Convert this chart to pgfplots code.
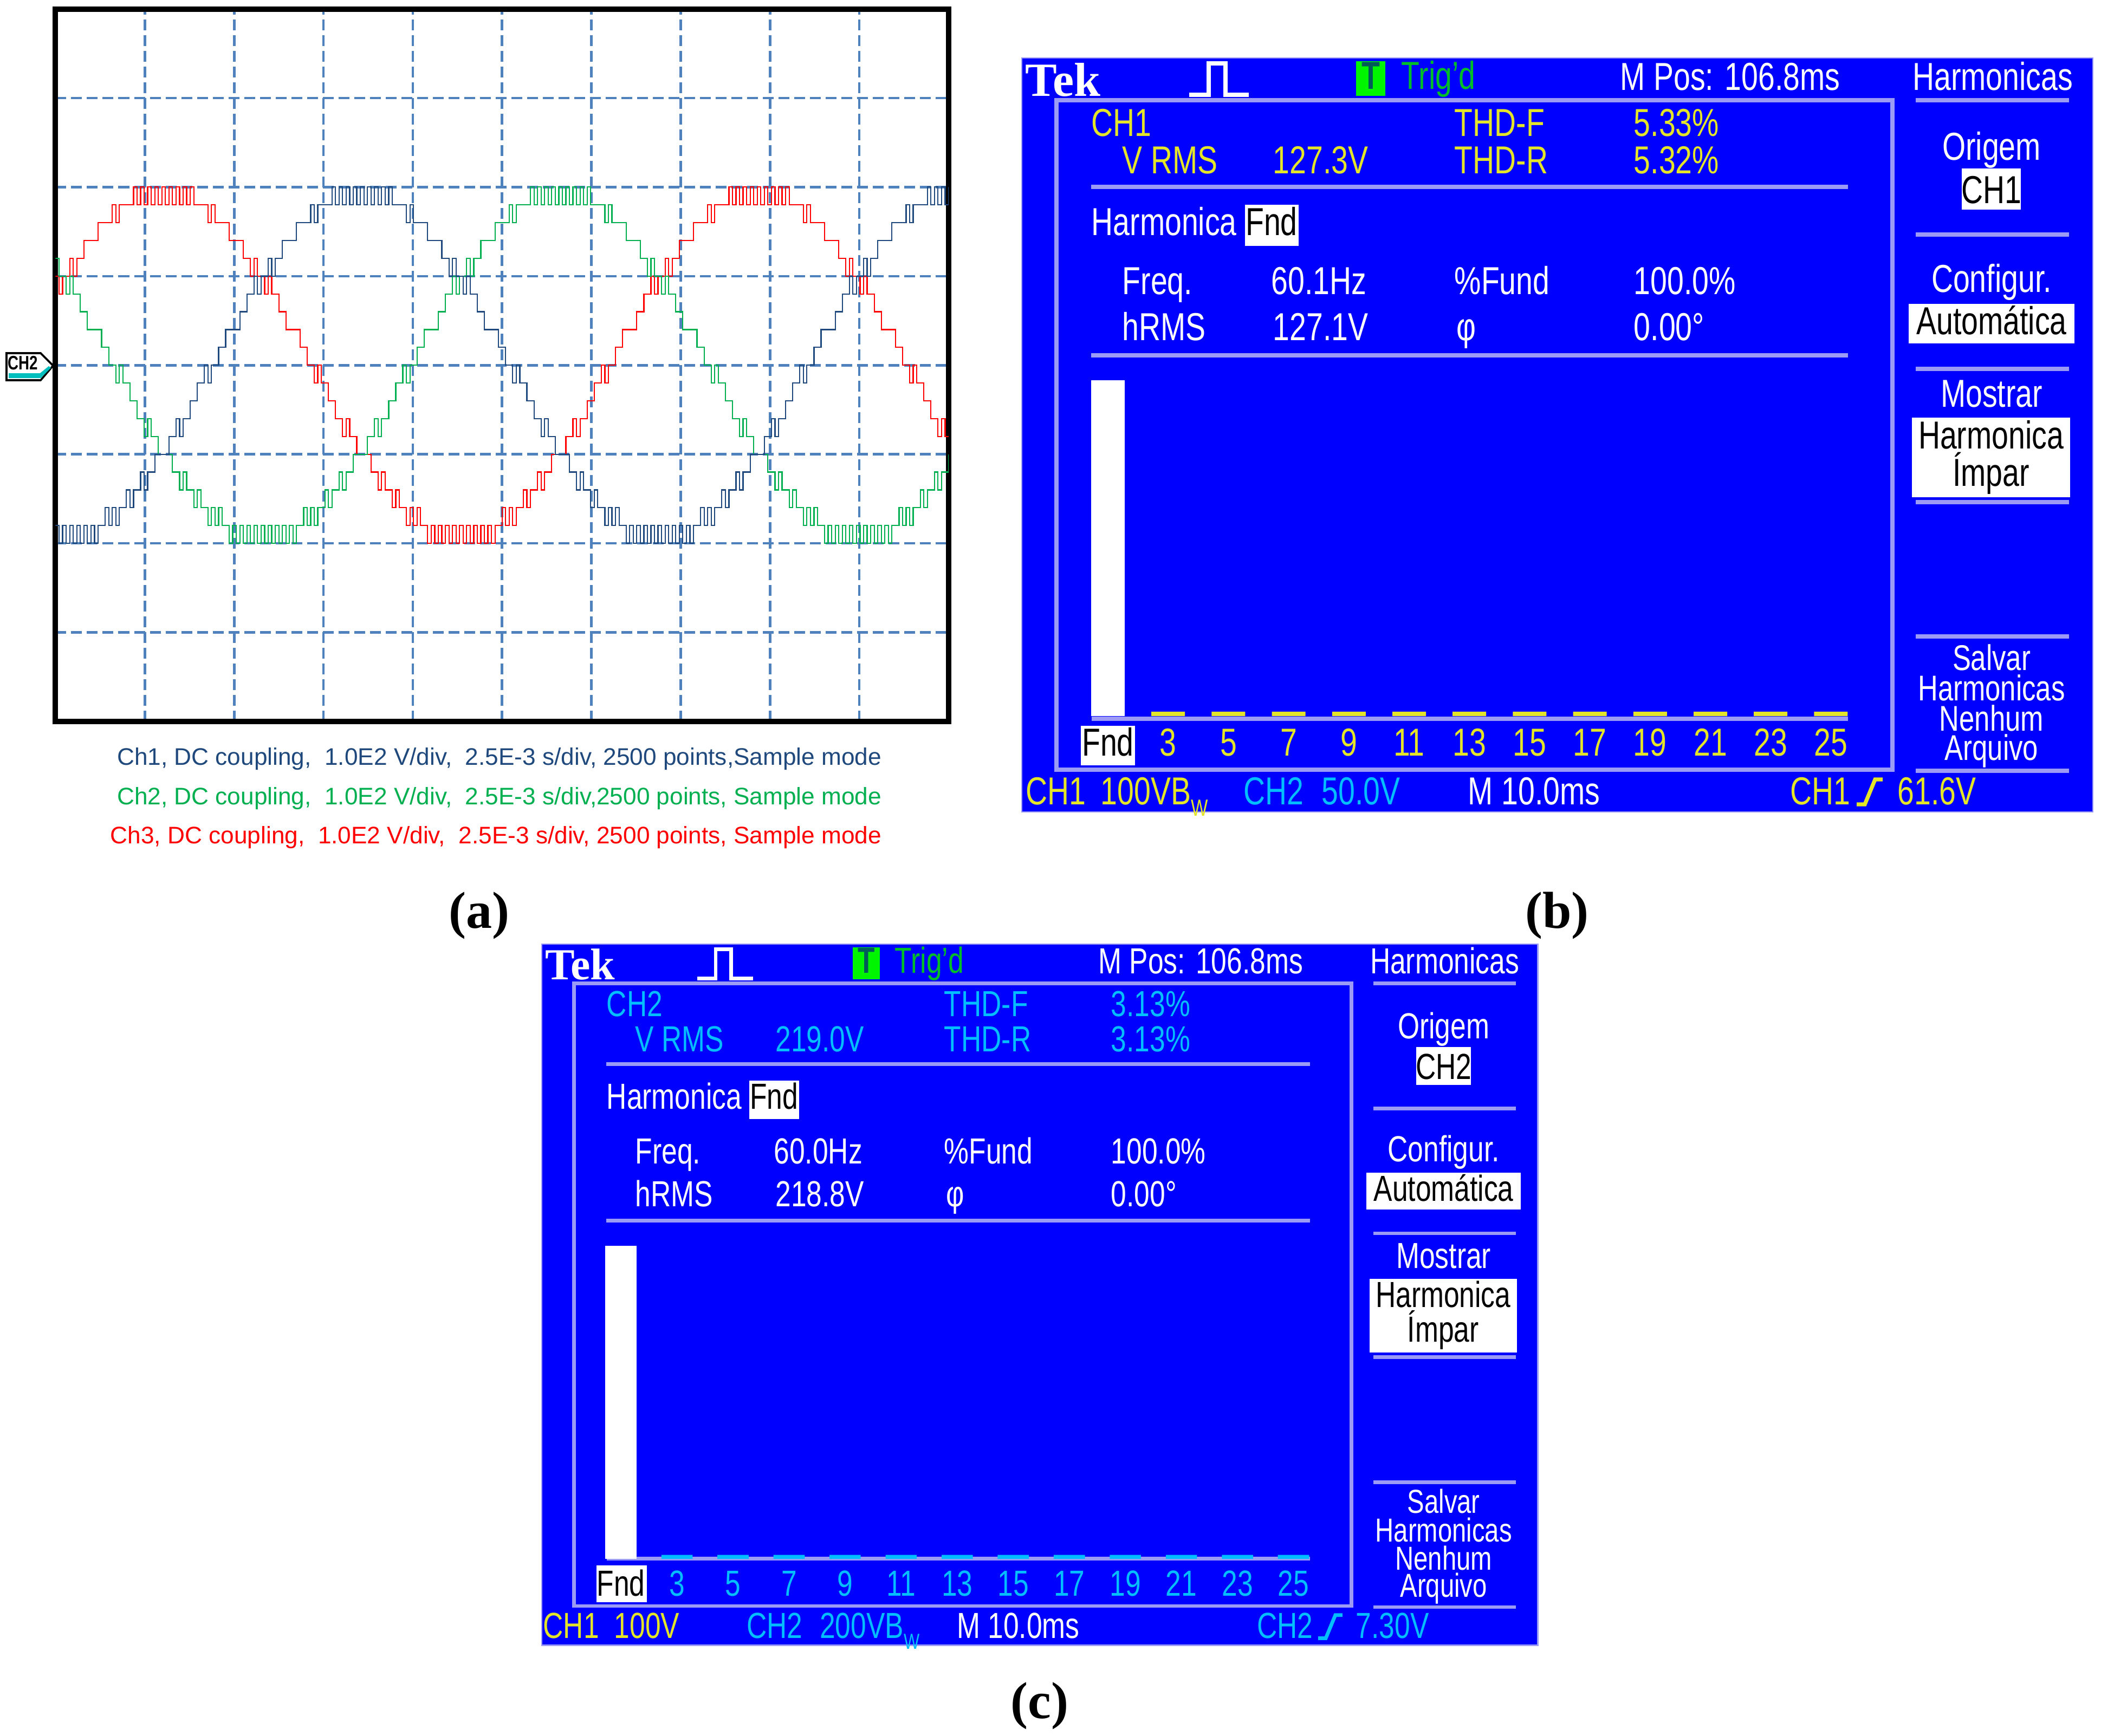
\documentclass[border=0pt]{standalone}
\usepackage{fontspec}
\setmainfont{Liberation Serif}
\newfontfamily\capfont{Liberation Sans}
\newfontfamily\tekfont[FakeStretch=0.77]{Liberation Sans}
\usepackage{pgfplots}
\pgfplotsset{compat=1.18}

\definecolor{gridblue}{RGB}{79,129,189}
\definecolor{trnavy}{RGB}{31,73,125}
\definecolor{trgreen}{RGB}{0,176,80}
\definecolor{trred}{RGB}{255,0,0}
\definecolor{tekblue}{RGB}{0,0,255}
\definecolor{teklav}{RGB}{155,155,245}
\definecolor{tekyellow}{RGB}{228,228,40}
\definecolor{tekcyan}{RGB}{0,190,255}
\definecolor{trigbox}{RGB}{0,245,0}
\definecolor{trigtxt}{RGB}{0,190,40}
\definecolor{tdark}{RGB}{0,90,90}
\definecolor{tealstrip}{RGB}{0,190,190}

\newcommand\bw{B\raisebox{-0.3em}{\scalebox{0.6}{W}}}

\tikzset{
  tk/.style={anchor=base west, inner sep=0pt, font=\tekfont\fontsize{\fs}{\fs}\selectfont},
  tkc/.style={anchor=base, inner sep=0pt, font=\tekfont\fontsize{\fs}{\fs}\selectfont},
  tks/.style={anchor=base, inner sep=0pt, text height=0.7em, text depth=0pt,
    font=\tekfont\fontsize{\fss}{\fss}\selectfont},
}

% static part of the Tek harmonics screen, local pixel frame of panel (b)
\newcommand{\tekbase}[1]{%
  \pgfmathsetmacro{\fs}{18*#1}%
  \pgfmathsetmacro{\fss}{16.5*#1}%
  \pgfmathsetmacro{\lw}{1.8*#1}%
  \pgfmathsetmacro{\tekfs}{22*#1}%
  \fill[tekblue] (0,0) rectangle (1977,1392);
  \draw[teklav, line width=0.6pt] (0,0) rectangle (1977,1392);
  \draw[teklav, line width=\lw pt] (64,78) rectangle (1607,1314);
  \draw[teklav, line width=\lw pt] (128,238) -- (1525,238) (128,549) -- (1525,549);
  \foreach \yy in {78,326,574,820,1068,1316}{\draw[teklav, line width=\lw pt] (1650,\yy) -- (1933,\yy);}
  \draw[teklav, line width=\lw pt] (129,1220) -- (1525,1220);
  \fill[white] (412,271) rectangle (511,347);
  \fill[white] (1735,204) rectangle (1844,280);
  \fill[white] (1637,454) rectangle (1943,527);
  \fill[white] (1643,664) rectangle (1935,811);
  \fill[white] (109,1233) rectangle (209,1306);
  \fill[trigbox] (617,6) rectangle (671,70);
  \draw[white, line width=\lw pt] (309,68) -- (345,68) -- (345,10) -- (376,10) -- (376,68) -- (419,68);
  \node[anchor=base west, inner sep=0pt, text=white, font=\rmfamily\bfseries\fontsize{\tekfs}{\tekfs}\selectfont] at (6,70) {Tek};
  \node[tkc, text=tdark, font=\tekfont\bfseries\fontsize{\fs}{\fs}\selectfont] at (644,57) {T};
  \node[tk, text=trigtxt] at (700,57) {Trig’d};
  \node[tk, text=white] at (1104,59) {M Pos: 106.8ms};
  \node[tkc, text=white] at (1792,59) {Harmonicas};
  \node[tk, text=white] at (128,327) {Harmonica};
  \node[tkc, text=black] at (461,327) {Fnd};
  \node[tk, text=white] at (185,436) {Freq.};
  \node[tk, text=white] at (798,436) {\%Fund};
  \node[tk, text=white] at (1129,436) {100.0\%};
  \node[tk, text=white] at (185,521) {hRMS};
  \node[tk, text=white] at (802,521) {φ};
  \node[tk, text=white] at (1129,521) {0.00°};
  \node[tkc, text=white] at (1790,188) {Origem};
  \node[tkc, text=white] at (1790,432) {Configur.};
  \node[tkc, text=black] at (1790,510) {Automática};
  \node[tkc, text=white] at (1790,644) {Mostrar};
  \node[tkc, text=black] at (1789,721) {Harmonica};
  \node[tkc, text=black] at (1789,790) {Ímpar};
  \node[tks, text=white] at (1790,1130) {Salvar};
  \node[tks, text=white] at (1790,1186) {Harmonicas};
  \node[tks, text=white] at (1790,1242) {Nenhum};
  \node[tks, text=white] at (1790,1296) {Arquivo};
  \node[tk, text=white] at (823,1378) {M 10.0ms};
}

% colour, channel, vrms, thd-f, thd-r, freq, hrms
\newcommand{\tekvar}[7]{%
  \node[tk, text=#1] at (128,144) {#2};
  \node[tk, text=#1] at (798,144) {THD-F};
  \node[tk, text=#1] at (1129,144) {#4};
  \node[tk, text=#1] at (185,213) {V RMS};
  \node[tk, text=#1] at (463,213) {#3};
  \node[tk, text=#1] at (798,213) {THD-R};
  \node[tk, text=#1] at (1129,213) {#5};
  \node[tk, text=white] at (460,436) {#6};
  \node[tk, text=white] at (463,521) {#7};
  \node[tkc, text=black] at (1790,268) {#2};
}

\begin{document}
\begin{tikzpicture}
\fill[white] (0pt,0pt) rectangle (969.5pt,-801pt);
\path[use as bounding box] (0pt,0pt) rectangle (969.5pt,-801pt);

% ---------------- (a) scope traces ----------------
\begin{axis}[
  at={(25.625pt,-4.125pt)}, anchor=north west,
  scale only axis, width=412.125pt, height=328.875pt,
  xmin=0, xmax=252, ymin=-20, ymax=20,
  xtick={25.2,50.4,75.6,100.8,126,151.2,176.4,201.6,226.8},
  ytick={-15,-10,-5,0,5,10,15},
  xticklabels={}, yticklabels={},
  major tick length=0pt,
  grid=major,
  major grid style={gridblue, line width=1.15pt, dash pattern=on 5pt off 2.25pt},
  axis line style={black, line width=2.5pt},
]
\addplot[const plot, trred, line width=0.55pt] coordinates {
(0,5)(1,4)(2,5)(3,5)(4,6)(5,5)(6,6)(7,6)(8,7)(9,7)
(10,7)(11,7)(12,8)(13,8)(14,8)(15,8)(16,9)(17,8)(18,9)(19,9)
(20,9)(21,9)(22,10)(23,9)(24,10)(25,9)(26,10)(27,9)(28,10)(29,9)
(30,10)(31,9)(32,10)(33,9)(34,10)(35,9)(36,10)(37,9)(38,10)(39,9)
(40,9)(41,9)(42,9)(43,8)(44,9)(45,8)(46,8)(47,8)(48,8)(49,7)
(50,7)(51,7)(52,7)(53,6)(54,6)(55,5)(56,6)(57,5)(58,5)(59,4)
(60,5)(61,4)(62,4)(63,3)(64,3)(65,2)(66,2)(67,2)(68,2)(69,1)
(70,1)(71,0)(72,0)(73,-1)(74,0)(75,-1)(76,-1)(77,-2)(78,-2)(79,-3)
(80,-3)(81,-4)(82,-3)(83,-4)(84,-4)(85,-5)(86,-5)(87,-5)(88,-5)(89,-6)
(90,-6)(91,-7)(92,-6)(93,-7)(94,-7)(95,-8)(96,-7)(97,-8)(98,-8)(99,-9)
(100,-8)(101,-9)(102,-8)(103,-9)(104,-9)(105,-10)(106,-9)(107,-10)(108,-9)(109,-10)
(110,-9)(111,-10)(112,-9)(113,-10)(114,-9)(115,-10)(116,-9)(117,-10)(118,-9)(119,-10)
(120,-9)(121,-10)(122,-9)(123,-10)(124,-9)(125,-9)(126,-8)(127,-9)(128,-8)(129,-9)
(130,-8)(131,-8)(132,-7)(133,-8)(134,-7)(135,-7)(136,-6)(137,-7)(138,-6)(139,-6)
(140,-5)(141,-5)(142,-5)(143,-5)(144,-4)(145,-4)(146,-3)(147,-4)(148,-3)(149,-3)
(150,-2)(151,-2)(152,-1)(153,-1)(154,0)(155,-1)(156,0)(157,0)(158,1)(159,1)
(160,2)(161,2)(162,2)(163,2)(164,3)(165,3)(166,4)(167,4)(168,5)(169,4)
(170,5)(171,5)(172,6)(173,5)(174,6)(175,6)(176,7)(177,7)(178,7)(179,7)
(180,8)(181,8)(182,8)(183,8)(184,9)(185,8)(186,9)(187,9)(188,9)(189,9)
(190,10)(191,9)(192,10)(193,9)(194,10)(195,9)(196,10)(197,9)(198,10)(199,9)
(200,10)(201,9)(202,10)(203,9)(204,10)(205,9)(206,10)(207,9)(208,9)(209,9)
(210,9)(211,8)(212,9)(213,8)(214,8)(215,8)(216,8)(217,7)(218,7)(219,7)
(220,7)(221,6)(222,6)(223,5)(224,6)(225,5)(226,5)(227,4)(228,5)(229,4)
(230,4)(231,3)(232,3)(233,2)(234,2)(235,2)(236,2)(237,1)(238,1)(239,0)
(240,0)(241,-1)(242,0)(243,-1)(244,-1)(245,-2)(246,-2)(247,-3)(248,-3)(249,-4)
(250,-3)(251,-4)(252,-4)
};
\addplot[const plot, trgreen, line width=0.55pt] coordinates {
(0,6)(1,5)(2,5)(3,4)(4,5)(5,4)(6,4)(7,3)(8,3)(9,2)
(10,2)(11,2)(12,2)(13,1)(14,1)(15,0)(16,0)(17,-1)(18,0)(19,-1)
(20,-1)(21,-2)(22,-2)(23,-3)(24,-3)(25,-4)(26,-3)(27,-4)(28,-4)(29,-5)
(30,-5)(31,-5)(32,-5)(33,-6)(34,-6)(35,-7)(36,-6)(37,-7)(38,-7)(39,-8)
(40,-7)(41,-8)(42,-8)(43,-9)(44,-8)(45,-9)(46,-8)(47,-9)(48,-9)(49,-10)
(50,-9)(51,-10)(52,-9)(53,-10)(54,-9)(55,-10)(56,-9)(57,-10)(58,-9)(59,-10)
(60,-9)(61,-10)(62,-9)(63,-10)(64,-9)(65,-10)(66,-9)(67,-10)(68,-9)(69,-9)
(70,-8)(71,-9)(72,-8)(73,-9)(74,-8)(75,-8)(76,-7)(77,-8)(78,-7)(79,-7)
(80,-6)(81,-7)(82,-6)(83,-6)(84,-5)(85,-5)(86,-5)(87,-5)(88,-4)(89,-4)
(90,-3)(91,-4)(92,-3)(93,-3)(94,-2)(95,-2)(96,-1)(97,-1)(98,0)(99,-1)
(100,0)(101,0)(102,1)(103,1)(104,2)(105,2)(106,2)(107,2)(108,3)(109,3)
(110,4)(111,4)(112,5)(113,4)(114,5)(115,5)(116,6)(117,5)(118,6)(119,6)
(120,7)(121,7)(122,7)(123,7)(124,8)(125,8)(126,8)(127,8)(128,9)(129,8)
(130,9)(131,9)(132,9)(133,9)(134,10)(135,9)(136,10)(137,9)(138,10)(139,9)
(140,10)(141,9)(142,10)(143,9)(144,10)(145,9)(146,10)(147,9)(148,10)(149,9)
(150,10)(151,9)(152,9)(153,9)(154,9)(155,8)(156,9)(157,8)(158,8)(159,8)
(160,8)(161,7)(162,7)(163,7)(164,7)(165,6)(166,6)(167,5)(168,6)(169,5)
(170,5)(171,4)(172,5)(173,4)(174,4)(175,3)(176,3)(177,2)(178,2)(179,2)
(180,2)(181,1)(182,1)(183,0)(184,0)(185,-1)(186,0)(187,-1)(188,-1)(189,-2)
(190,-2)(191,-3)(192,-3)(193,-4)(194,-3)(195,-4)(196,-4)(197,-5)(198,-5)(199,-5)
(200,-5)(201,-6)(202,-6)(203,-7)(204,-6)(205,-7)(206,-7)(207,-8)(208,-7)(209,-8)
(210,-8)(211,-9)(212,-8)(213,-9)(214,-8)(215,-9)(216,-9)(217,-10)(218,-9)(219,-10)
(220,-9)(221,-10)(222,-9)(223,-10)(224,-9)(225,-10)(226,-9)(227,-10)(228,-9)(229,-10)
(230,-9)(231,-10)(232,-9)(233,-10)(234,-9)(235,-10)(236,-9)(237,-9)(238,-8)(239,-9)
(240,-8)(241,-9)(242,-8)(243,-8)(244,-7)(245,-8)(246,-7)(247,-7)(248,-6)(249,-7)
(250,-6)(251,-6)(252,-5)
};
\addplot[const plot, trnavy, line width=0.55pt] coordinates {
(0,-9)(1,-10)(2,-9)(3,-10)(4,-9)(5,-10)(6,-9)(7,-10)(8,-9)(9,-10)
(10,-9)(11,-10)(12,-9)(13,-9)(14,-8)(15,-9)(16,-8)(17,-9)(18,-8)(19,-8)
(20,-7)(21,-8)(22,-7)(23,-7)(24,-6)(25,-7)(26,-6)(27,-6)(28,-5)(29,-5)
(30,-5)(31,-5)(32,-4)(33,-4)(34,-3)(35,-4)(36,-3)(37,-3)(38,-2)(39,-2)
(40,-1)(41,-1)(42,0)(43,-1)(44,0)(45,0)(46,1)(47,1)(48,2)(49,2)
(50,2)(51,2)(52,3)(53,3)(54,4)(55,4)(56,5)(57,4)(58,5)(59,5)
(60,6)(61,5)(62,6)(63,6)(64,7)(65,7)(66,7)(67,7)(68,8)(69,8)
(70,8)(71,8)(72,9)(73,8)(74,9)(75,9)(76,9)(77,9)(78,10)(79,9)
(80,10)(81,9)(82,10)(83,9)(84,10)(85,9)(86,10)(87,9)(88,10)(89,9)
(90,10)(91,9)(92,10)(93,9)(94,10)(95,9)(96,9)(97,9)(98,9)(99,8)
(100,9)(101,8)(102,8)(103,8)(104,8)(105,7)(106,7)(107,7)(108,7)(109,6)
(110,6)(111,5)(112,6)(113,5)(114,5)(115,4)(116,5)(117,4)(118,4)(119,3)
(120,3)(121,2)(122,2)(123,2)(124,2)(125,1)(126,1)(127,0)(128,0)(129,-1)
(130,0)(131,-1)(132,-1)(133,-2)(134,-2)(135,-3)(136,-3)(137,-4)(138,-3)(139,-4)
(140,-4)(141,-5)(142,-5)(143,-5)(144,-5)(145,-6)(146,-6)(147,-7)(148,-6)(149,-7)
(150,-7)(151,-8)(152,-7)(153,-8)(154,-8)(155,-9)(156,-8)(157,-9)(158,-8)(159,-9)
(160,-9)(161,-10)(162,-9)(163,-10)(164,-9)(165,-10)(166,-9)(167,-10)(168,-9)(169,-10)
(170,-9)(171,-10)(172,-9)(173,-10)(174,-9)(175,-10)(176,-9)(177,-10)(178,-9)(179,-10)
(180,-9)(181,-9)(182,-8)(183,-9)(184,-8)(185,-9)(186,-8)(187,-8)(188,-7)(189,-8)
(190,-7)(191,-7)(192,-6)(193,-7)(194,-6)(195,-6)(196,-5)(197,-5)(198,-5)(199,-5)
(200,-4)(201,-4)(202,-3)(203,-4)(204,-3)(205,-3)(206,-2)(207,-2)(208,-1)(209,-1)
(210,0)(211,-1)(212,0)(213,0)(214,1)(215,1)(216,2)(217,2)(218,2)(219,2)
(220,3)(221,3)(222,4)(223,4)(224,5)(225,4)(226,5)(227,5)(228,6)(229,5)
(230,6)(231,6)(232,7)(233,7)(234,7)(235,7)(236,8)(237,8)(238,8)(239,8)
(240,9)(241,8)(242,9)(243,9)(244,9)(245,9)(246,10)(247,9)(248,10)(249,9)
(250,10)(251,9)(252,10)
};
\end{axis}

\begin{scope}[x=0.25pt, y=-0.25pt]
\filldraw[fill=white, draw=black, line width=0.9pt] (12,652) -- (75,652) -- (98,675) -- (75,702) -- (12,702) -- cycle;
\fill[tealstrip] (16,689) -- (74,689) -- (90,676) -- (94,679) -- (75,698) -- (16,698) -- cycle;
\node[inner sep=0pt, font=\tekfont\bfseries\fontsize{9}{9}\selectfont] at (42,670) {CH2};
\end{scope}

\node[anchor=base east, inner sep=0pt, text=trnavy, font=\capfont\fontsize{11.05}{11.05}\selectfont] at (407pt,-353pt) {Ch1, DC coupling,\ \ 1.0E2 V/div,\ \ 2.5E-3 s/div, 2500 points,Sample mode};
\node[anchor=base east, inner sep=0pt, text=trgreen, font=\capfont\fontsize{11.05}{11.05}\selectfont] at (407pt,-371.25pt) {Ch2, DC coupling,\ \ 1.0E2 V/div,\ \ 2.5E-3 s/div,2500 points,\ Sample mode};
\node[anchor=base east, inner sep=0pt, text=trred, font=\capfont\fontsize{11.05}{11.05}\selectfont] at (407pt,-389.25pt) {Ch3, DC coupling,\ \ 1.0E2 V/div,\ \ 2.5E-3 s/div, 2500 points,\ Sample mode};

\node[anchor=base, inner sep=0pt, font=\rmfamily\bfseries\fontsize{24}{24}\selectfont] at (221pt,-428.25pt) {(a)};
\node[anchor=base, inner sep=0pt, font=\rmfamily\bfseries\fontsize{24}{24}\selectfont] at (718.5pt,-428.25pt) {(b)};
\node[anchor=base, inner sep=0pt, font=\rmfamily\bfseries\fontsize{24}{24}\selectfont] at (479.75pt,-793pt) {(c)};

% ---------------- (b) screen ----------------
\begin{scope}[shift={(471.5pt,-26.75pt)}, x=0.25pt, y=-0.25pt]
\tekbase{1}
\tekvar{tekyellow}{CH1}{127.3V}{5.33\%}{5.32\%}{60.1Hz}{127.1V}
\node[tk, text=tekyellow] at (7,1378) {CH1};
\node[tk, text=tekyellow] at (145,1378) {100V\bw};
\node[tk, text=tekcyan] at (409,1378) {CH2};
\node[tk, text=tekcyan] at (553,1378) {50.0V};
\node[tk, text=tekyellow] at (1418,1378) {CH1};
\draw[tekyellow, line width=\lw pt] (1541,1378) -- (1556,1378) -- (1575,1332) -- (1589,1332);
\node[tk, text=tekyellow] at (1616,1378) {61.6V};
\end{scope}

\begin{axis}[
  at={(497.35pt,-330.5pt)}, anchor=south west,
  scale only axis, width=361.4pt, height=155pt,
  xmin=-0.5, xmax=12.5, ymin=0, ymax=100,
  axis line style={draw=none}, major tick length=0pt,
  ytick=\empty, xtick={0,...,12},
  xticklabels={\textcolor{black}{Fnd},3,5,7,9,11,13,15,17,19,21,23,25},
  xticklabel style={anchor=base, yshift=-18.25pt, inner sep=0pt, text=tekyellow,
    font=\tekfont\fontsize{18}{18}\selectfont},
  ybar, bar width=15.5pt, clip=false,
]
\addplot[fill=white, draw=none, bar shift=0pt] coordinates {(0,100)};
\addplot[fill=tekyellow, draw=none, bar shift=0pt] coordinates {
(1,1.3)(2,1.3)(3,1.3)(4,1.3)(5,1.3)(6,1.3)(7,1.3)(8,1.3)(9,1.3)(10,1.3)(11,1.3)(12,1.3)};
\end{axis}

% ---------------- (c) screen ----------------
\begin{scope}[shift={(250pt,-435.75pt)}, x=0.2325pt, y=-0.2325pt]
\tekbase{0.93}
\tekvar{tekcyan}{CH2}{219.0V}{3.13\%}{3.13\%}{60.0Hz}{218.8V}
\node[tk, text=tekyellow] at (2,1378) {CH1};
\node[tk, text=tekyellow] at (143,1378) {100V};
\node[tk, text=tekcyan] at (406,1378) {CH2};
\node[tk, text=tekcyan] at (551,1378) {200V\bw};
\node[tk, text=tekcyan] at (1419,1378) {CH2};
\draw[tekcyan, line width=\lw pt] (1541,1378) -- (1556,1378) -- (1575,1332) -- (1589,1332);
\node[tk, text=tekcyan] at (1615,1378) {7.30V};
\end{scope}

\begin{axis}[
  at={(273.6pt,-719.5pt)}, anchor=south west,
  scale only axis, width=336.2pt, height=144.5pt,
  xmin=-0.5, xmax=12.5, ymin=0, ymax=100,
  axis line style={draw=none}, major tick length=0pt,
  ytick=\empty, xtick={0,...,12},
  xticklabels={\textcolor{black}{Fnd},3,5,7,9,11,13,15,17,19,21,23,25},
  xticklabel style={anchor=base, yshift=-17pt, inner sep=0pt, text=tekcyan,
    font=\tekfont\fontsize{16.74}{16.74}\selectfont},
  ybar, bar width=14.4pt, clip=false,
]
\addplot[fill=white, draw=none, bar shift=0pt] coordinates {(0,100)};
\addplot[fill=tekcyan, draw=none, bar shift=0pt] coordinates {
(1,1.3)(2,1.3)(3,1.3)(4,1.3)(5,1.3)(6,1.3)(7,1.3)(8,1.3)(9,1.3)(10,1.3)(11,1.3)(12,1.3)};
\end{axis}
\end{tikzpicture}
\end{document}
